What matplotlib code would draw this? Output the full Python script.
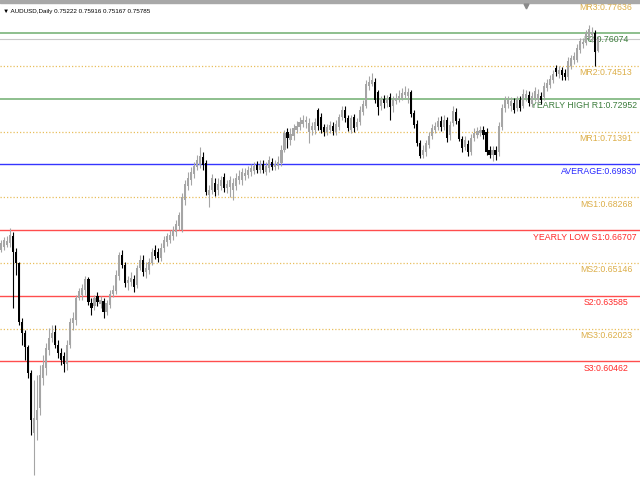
import matplotlib
matplotlib.use('Agg')
import matplotlib.pyplot as plt
import matplotlib.transforms as mtransforms
import numpy as np
from matplotlib.patches import Rectangle

title_text = "\u25BC AUDUSD,Daily 0.75222 0.75916 0.75167 0.75785"

# daily candles, values in pips (price * 10000)
opens_pips = [6576,6590,6600,6609,6642,6566,6514,6234,6181,6115,
5991,5706,5768,5825,5968,6015,6101,6158,6186,6124,
6086,6072,6034,6124,6229,6243,6348,6362,6386,6438,
6324,6310,6357,6319,6334,6281,6315,6367,6381,6452,
6552,6505,6419,6424,6438,6410,6490,6528,6471,6481,
6514,6576,6566,6538,6585,6614,6623,6642,6662,6690,
6671,6814,6880,6909,6937,6970,6980,7018,6989,6837,
6861,6894,6861,6880,6923,6871,6875,6861,6880,6909,
6909,6928,6932,6947,6951,6980,6956,6985,6947,6966,
6994,6970,6975,6989,7051,7137,7099,7118,7146,7161,
7175,7184,7137,7146,7146,7241,7208,7161,7137,7146,
7165,7137,7161,7208,7241,7203,7146,7208,7161,7184,
7232,7260,7355,7365,7374,7327,7260,7294,7275,7303,
7260,7284,7294,7298,7313,7308,7327,7227,7175,7085,
7027,7042,7075,7118,7146,7161,7189,7161,7194,7123,
7180,7232,7189,7104,7066,7080,7042,7108,7123,7132,
7146,7137,7051,7027,7051,7042,7161,7251,7270,7260,
7275,7251,7289,7260,7298,7313,7270,7298,7289,7308,
7303,7346,7360,7384,7441,7412,7431,7417,7398,7451,
7479,7479,7527,7555,7560,7584,7598,7607,7522.2]

highs_pips = [6623,6638,6642,6681,6662,6585,6519,6253,6196,6124,
6006,5958,5982,6029,6077,6134,6205,6219,6219,6148,
6110,6091,6148,6253,6281,6362,6395,6414,6452,6448,
6348,6362,6376,6357,6348,6338,6386,6410,6481,6566,
6576,6519,6452,6471,6457,6505,6552,6552,6519,6538,
6585,6600,6585,6609,6642,6657,6671,6690,6719,6757,
6847,6909,6947,6970,6994,7027,7066,7042,7004,6885,
6937,6918,6918,6928,6942,6909,6928,6918,6942,6956,
6966,6966,6975,6985,6994,6999,7004,7004,6994,7023,
7013,7004,7023,7075,7146,7156,7156,7175,7189,7208,
7218,7213,7203,7184,7203,7251,7227,7175,7175,7189,
7184,7194,7222,7260,7260,7218,7218,7222,7203,7260,
7289,7384,7403,7417,7393,7336,7308,7313,7313,7322,
7308,7322,7336,7346,7355,7346,7336,7241,7194,7099,
7075,7099,7137,7175,7184,7208,7213,7218,7208,7189,
7260,7251,7203,7118,7118,7099,7127,7156,7161,7165,
7165,7156,7070,7070,7070,7184,7270,7308,7308,7303,
7298,7308,7308,7341,7336,7332,7327,7351,7341,7327,
7374,7389,7408,7431,7455,7451,7446,7436,7493,7503,
7517,7555,7584,7584,7622,7645,7636,7622,7591.6]

lows_pips = [6566,6576,6590,6590,6300,6457,6219,6124,6053,5968,
5697,5507,5673,5792,5934,5982,6077,6139,6110,6063,
6029,5996,6006,6110,6196,6219,6338,6338,6362,6315,
6267,6291,6310,6300,6253,6267,6300,6353,6367,6433,
6490,6400,6386,6405,6376,6395,6481,6452,6443,6462,
6505,6533,6519,6524,6566,6595,6609,6623,6642,6671,
6662,6790,6861,6885,6918,6956,6966,6956,6837,6780,
6842,6833,6837,6861,6852,6847,6828,6814,6861,6890,
6885,6909,6918,6928,6937,6942,6942,6942,6932,6947,
6956,6956,6961,6975,7042,7061,7075,7099,7132,7146,
7161,7156,7085,7123,7127,7146,7132,7118,7123,7132,
7123,7123,7146,7194,7184,7142,7132,7137,7146,7170,
7218,7251,7336,7355,7275,7218,7241,7251,7256,7194,
7232,7270,7279,7289,7298,7275,7208,7156,7070,7013,
7013,7023,7061,7104,7132,7146,7142,7146,7089,7099,
7165,7175,7094,7042,7051,7023,7027,7094,7108,7118,
7104,7027,7013,6999,7004,7023,7146,7232,7251,7237,
7227,7237,7237,7251,7284,7260,7256,7284,7275,7270,
7289,7332,7346,7370,7403,7393,7384,7384,7384,7436,
7460,7470,7512,7536,7550,7574,7565,7451,7516.7]

closes_pips = [6609,6623,6619,6647,6566,6514,6234,6181,6115,5991,
5768,5777,5816,5982,6029,6110,6158,6181,6124,6086,
6053,6034,6124,6234,6253,6348,6381,6395,6438,6329,
6300,6348,6329,6338,6281,6324,6367,6386,6457,6552,
6505,6419,6433,6443,6400,6490,6528,6471,6490,6519,
6566,6547,6538,6585,6623,6642,6647,6671,6700,6742,
6828,6890,6918,6947,6975,7004,7023,6980,6852,6861,
6918,6852,6890,6909,6871,6890,6909,6894,6918,6928,
6947,6942,6956,6966,6975,6956,6980,6956,6975,7004,
6970,6985,6994,7051,7132,7108,7127,7156,7165,7184,
7194,7194,7180,7165,7184,7165,7146,7137,7161,7170,
7142,7175,7208,7241,7203,7156,7203,7156,7184,7241,
7270,7365,7374,7384,7289,7256,7289,7275,7294,7256,
7289,7298,7308,7322,7327,7327,7222,7170,7085,7023,
7051,7085,7118,7156,7165,7189,7161,7194,7108,7170,
7237,7189,7104,7061,7099,7042,7108,7132,7142,7146,
7123,7042,7027,7051,7027,7165,7251,7289,7289,7284,
7241,7289,7251,7317,7317,7275,7308,7332,7317,7289,
7355,7370,7389,7412,7422,7431,7408,7398,7474,7489,
7498,7536,7569,7565,7607,7626,7612,7517,7578.5]

level_names = ["MR3", "R2", "MR2", "YEARLY HIGH R1", "MR1", "AVERAGE",
               "MS1", "YEARLY LOW S1", "MS2", "S2", "MS3", "S3"]
level_values = [0.77636, 0.76074, 0.74513, 0.72952, 0.71391, 0.69830,
                0.68268, 0.66707, 0.65146, 0.63585, 0.62023, 0.60462]
level_kinds = ["mid", "res", "mid", "res", "mid", "avg",
               "mid", "sup", "mid", "sup", "mid", "sup"]
bid_price = 0.75785

line_style = {
    "mid": dict(color="#e8bf5c", lw=0.9, ls=(0, (1, 1.6))),
    "res": dict(color="#6fae6f", lw=1.1, ls="-"),
    "avg": dict(color="#3535ff", lw=1.0, ls="-"),
    "sup": dict(color="#ff4d4d", lw=1.0, ls="-"),
}
text_color = {"mid": "#dcae48", "res": "#3d7d3d", "avg": "#2a2aff", "sup": "#ff2a2a"}
label_font = ["Liberation Sans", "DejaVu Sans"]

o = np.array(opens_pips) / 1e4
h = np.array(highs_pips) / 1e4
l = np.array(lows_pips) / 1e4
c = np.array(closes_pips) / 1e4
idx = np.arange(len(o))

fig = plt.figure(figsize=(6.4, 4.8), dpi=100)
ax = fig.add_axes([0, 0, 1, 1])
ax.set_xlim(-0.33, 211.9)
ax.set_ylim(0.54828, 0.77642)
ax.axis("off")

label_tr = mtransforms.offset_copy(ax.get_yaxis_transform(), fig=fig, y=-2.5, units="dots")
labels = []
for name, val, kind in zip(level_names, level_values, level_kinds):
    st = line_style[kind]
    ax.axhline(val, color=st["color"], lw=st["lw"], ls=st["ls"], zorder=1)
    t = ax.text(606 / 640, val, f"{name}:{val:.5f}", transform=label_tr,
                ha="center", va="top", fontsize=6.3, family=label_font,
                color=text_color[kind], zorder=2)
    labels.append(t)

ax.axhline(bid_price, color="#c8c8c8", lw=0.8, zorder=1)

bull = c >= o
col = np.where(bull, "#a5a5a5", "#000000")
ax.vlines(idx, l, h, colors=col, lw=0.8, zorder=3)
ax.bar(idx, c - o, bottom=o, width=0.7, color=col, edgecolor="none", zorder=4)

ax.add_patch(Rectangle((0, 1 - 2.5 / 480), 1, 2.5 / 480, transform=ax.transAxes,
                       color="#a8a8a8", zorder=5, clip_on=False))
ax.plot([526 / 640], [1 - 6 / 480], marker="v", ms=3.5, color="#8a8a8a",
        transform=ax.transAxes, zorder=6, clip_on=False)

ax.text(3 / 640, 1 - 11 / 480, title_text, transform=ax.transAxes,
        fontsize=4.5, family=label_font, color="#000000",
        ha="left", va="center", zorder=6)

# keep long labels inside the right edge
fig.canvas.draw()
r = fig.canvas.get_renderer()
for t in labels:
    bb = t.get_window_extent(renderer=r)
    if bb.x1 > 637:
        x, y = t.get_position()
        t.set_position((x - (bb.x1 - 637) / 640, y))

fig.savefig("out.png", dpi=100)
